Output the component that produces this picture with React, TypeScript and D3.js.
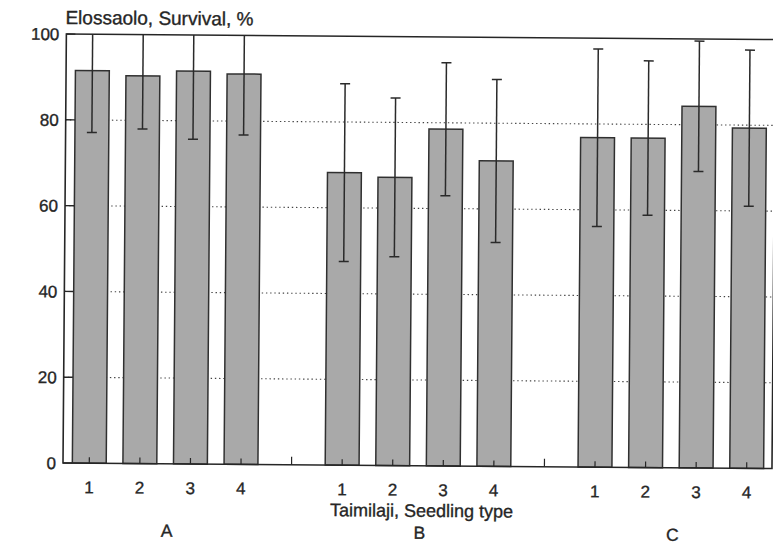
import React from "react";
import * as d3 from "d3";

// stand types and seedling types
const groups = ["A", "B", "C"];
const seedlingTypes = ["1", "2", "3", "4"];

// mean survival %, per group, seedling type 1..4
const survivalA = [91.5, 90.4, 91.6, 91.0];
const survivalB = [68.2, 67.2, 78.5, 71.2];
const survivalC = [76.8, 76.8, 84.3, 79.3];

// standard deviation (error bars)
const sdA = [14.4, 12.4, 15.9, 14.2];
const sdB = [20.7, 18.5, 15.5, 19.0];
const sdC = [20.7, 18.0, 15.2, 18.2];

const yTicks = [0, 20, 40, 60, 80, 100];
const gridTicks = [20, 40, 60, 80];

const W = 773;
const H = 545;
const left = 63;
const right = 772;
const top = 34;
const bottom = 463;
const tilt = 0.45; // the original scan is slightly rotated

const font = "'Liberation Sans', Arial, Helvetica, sans-serif";
const ink = "#262626";

export default function App() {
  const means = [survivalA, survivalB, survivalC];
  const sds = [sdA, sdB, sdC];

  const x0 = d3.scaleBand().domain(groups).range([left + 1, right]).paddingInner(0.2).paddingOuter(0);
  const x1 = d3
    .scaleBand()
    .domain(seedlingTypes)
    .range([0, x0.bandwidth()])
    .paddingInner(0.33)
    .paddingOuter(0.165);
  const y = d3.scaleLinear().domain([0, 100]).range([bottom, top]);

  const slot = x1.step();
  const bars = groups.flatMap((g, gi) =>
    seedlingTypes.map((t, ti) => ({
      g,
      t,
      x: (x0(g) as number) + (x1(t) as number),
      mean: means[gi][ti],
      sd: sds[gi][ti],
    }))
  );
  const gapTicks = groups.slice(0, -1).map((g) => (x0(g) as number) + x0.bandwidth() + slot / 2);
  const bw = x1.bandwidth();

  const textStyle = { stroke: ink, strokeWidth: 0.35 };

  return (
    <svg
      width={W}
      height={H}
      style={{ position: "absolute", left: 0, top: 0, background: "#fff" }}
    >
      <defs>
        <pattern
          id="dots"
          width="2"
          height="2"
          patternUnits="userSpaceOnUse"
          patternTransform={`rotate(${-tilt})`}
        >
          <rect width="2" height="2" fill="#d4d4d4" />
          <rect width="1" height="1" fill="#7e7e7e" />
          <rect x="1" y="1" width="1" height="1" fill="#7e7e7e" />
        </pattern>
      </defs>
      <g transform={`rotate(${tilt} ${left} ${bottom})`} fontFamily={font} fill={ink}>
        {/* dotted grid */}
        {gridTicks.map((v) => (
          <line
            key={v}
            x1={left}
            x2={right}
            y1={y(v)}
            y2={y(v)}
            stroke="#444"
            strokeWidth={1.1}
            strokeDasharray="1.4,2.8"
          />
        ))}

        {/* bars */}
        {bars.map((b) => (
          <rect
            key={b.g + b.t}
            x={b.x}
            y={y(b.mean)}
            width={bw}
            height={bottom - y(b.mean)}
            fill="url(#dots)"
            stroke="#303030"
            strokeWidth={1.5}
          />
        ))}

        {/* error bars */}
        {bars.map((b) => {
          const cx = b.x + bw / 2;
          const hi = Math.min(100, b.mean + b.sd);
          const lo = b.mean - b.sd;
          return (
            <g key={"e" + b.g + b.t} stroke="#2a2a2a" strokeWidth={1.5}>
              <line x1={cx} x2={cx} y1={y(hi)} y2={y(lo)} />
              <line x1={cx - 5} x2={cx + 5} y1={y(lo)} y2={y(lo)} />
              {b.mean + b.sd < 100 && <line x1={cx - 5} x2={cx + 5} y1={y(hi)} y2={y(hi)} />}
            </g>
          );
        })}

        {/* frame */}
        <path
          d={`M${left},${top}V${bottom}H${right}V${top}Z`}
          fill="none"
          stroke="#262626"
          strokeWidth={1.6}
        />

        {/* y axis ticks & labels */}
        {yTicks.map((v) => (
          <g key={"y" + v}>
            <line x1={left} x2={left + 9} y1={y(v)} y2={y(v)} stroke={ink} strokeWidth={1.4} />
            <text x={56} y={y(v)} dy="0.36em" textAnchor="end" fontSize={17} style={textStyle}>
              {v}
            </text>
          </g>
        ))}

        {/* x ticks */}
        {bars.map((b) => (
          <line
            key={"xt" + b.g + b.t}
            x1={b.x + bw / 2}
            x2={b.x + bw / 2}
            y1={bottom}
            y2={bottom - 6}
            stroke={ink}
            strokeWidth={1.2}
          />
        ))}
        {gapTicks.map((gx) => (
          <line key={"gt" + gx} x1={gx} x2={gx} y1={bottom} y2={bottom - 8} stroke={ink} strokeWidth={1.2} />
        ))}
        {bars.map((b) => (
          <text
            key={"xl" + b.g + b.t}
            x={b.x + bw / 2}
            y={bottom + 30}
            textAnchor="middle"
            fontSize={17}
            style={textStyle}
          >
            {b.t}
          </text>
        ))}
        {groups.map((g) => (
          <text
            key={"g" + g}
            x={(x0(g) as number) + x0.bandwidth() / 2 + 2}
            y={bottom + 73}
            textAnchor="middle"
            fontSize={17.5}
            style={textStyle}
          >
            {g}
          </text>
        ))}

        <text x={422} y={bottom + 51} textAnchor="middle" fontSize={18} style={textStyle}>
          Taimilaji, Seedling type
        </text>
        <text x={62} y={24} fontSize={19} style={textStyle}>
          Elossaolo, Survival, %
        </text>
      </g>
    </svg>
  );
}
